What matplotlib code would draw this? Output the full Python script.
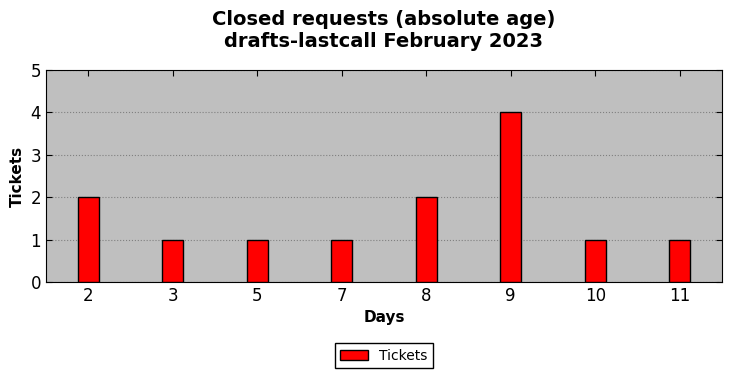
import matplotlib
matplotlib.use("Agg")
import matplotlib.pyplot as plt
import numpy as np

# Data
days = ["2", "3", "5", "7", "8", "9", "10", "11"]
tickets = [2, 1, 1, 1, 2, 4, 1, 1]

fig = plt.figure(figsize=(7.32, 3.78), dpi=100)
ax = fig.add_axes([0.0628, 0.254, 0.9235, 0.561])
ax.set_facecolor("#bfbfbf")

x = np.arange(len(days))
ax.bar(x, tickets, width=0.25, color="red", edgecolor="black", linewidth=1,
       label="Tickets", zorder=3)

ax.set_xlim(-0.5, len(days) - 0.5)
ax.set_ylim(0, 5)
ax.set_xticks(x)
ax.set_xticklabels(days)
ax.set_yticks(range(0, 6))
ax.tick_params(direction="in", labelsize=12, length=4, top=True, right=True)
ax.yaxis.grid(True, linestyle=":", color="#808080", linewidth=0.8, zorder=0)

ax.set_xlabel("Days", fontsize=11, fontweight="bold")
ax.set_ylabel("Tickets", fontsize=11, fontweight="bold")
ax.set_title("Closed requests (absolute age)\ndrafts-lastcall February 2023",
             fontsize=14, fontweight="bold", pad=16.5)

ax.legend(loc="upper center", bbox_to_anchor=(0.5, -0.255), fontsize=10,
          frameon=True, fancybox=False, edgecolor="black", framealpha=1)

fig.savefig("out.png", dpi=100)
